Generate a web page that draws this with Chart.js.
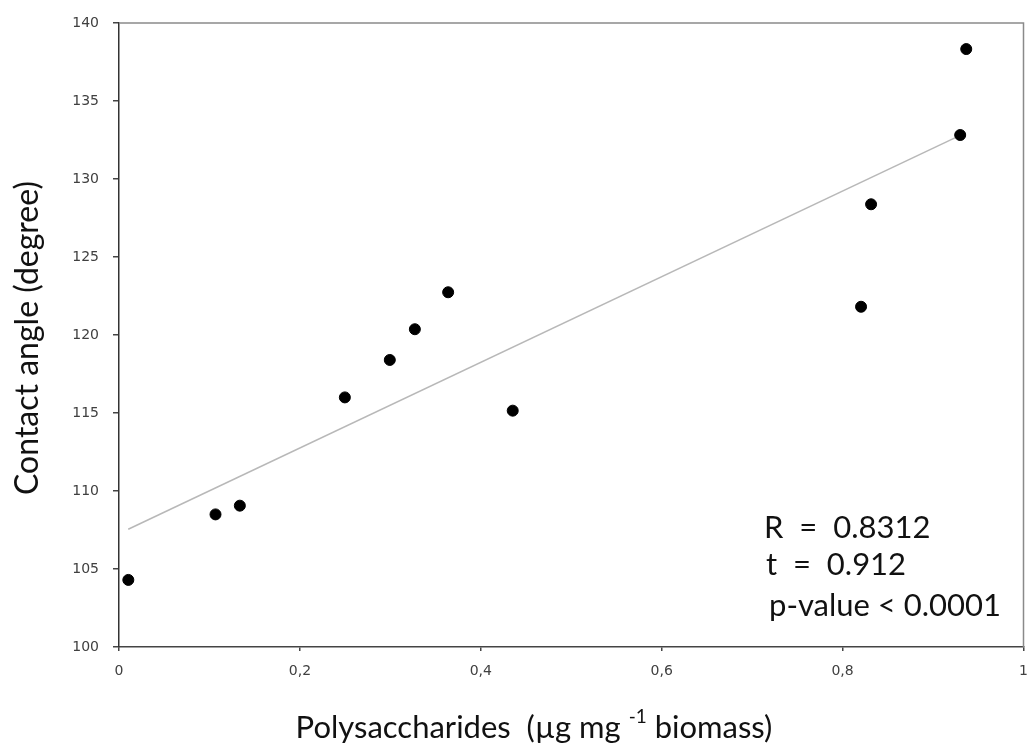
<!DOCTYPE html>
<html>
<head>
<meta charset="utf-8">
<script src="https://cdn.jsdelivr.net/npm/chart.js@4.4.1/dist/chart.umd.min.js"></script>
<style>
  html, body { margin: 0; padding: 0; background: #fff; }
  #wrap { width: 1030px; height: 748px; position: relative; }
</style>
</head>
<body>
<div id="wrap"><canvas id="c" width="1030" height="748"></canvas></div>
<script>
// Data
const polysaccharides = [0.0103, 0.1067, 0.1336, 0.2497, 0.2994, 0.3271, 0.3639, 0.4353, 0.8204, 0.8315, 0.9300, 0.9367];
const contactAngle    = [104.3, 108.5, 109.06, 116.0, 118.4, 120.37, 122.74, 115.15, 121.81, 128.38, 132.82, 138.33];
const trendX = [0.0102, 0.930];
const trendY = [107.55, 132.8];
const xTicks = [0, 0.2, 0.4, 0.6, 0.8, 1];
const yTicks = [100, 105, 110, 115, 120, 125, 130, 135, 140];
const statsLines = ["R  =  0.8312", "t  =  0.912", "p-value < 0.0001"];
const xTitleParts = ["Polysaccharides  (\u00b5g mg ", "-1", " biomass)"];
const yTitle = "Contact angle (degree)";

const points = polysaccharides.map((x, i) => ({ x: x, y: contactAngle[i] }));
const trend = trendX.map((x, i) => ({ x: x, y: trendY[i] }));

const titleFont = "Lato, 'Open Sans', sans-serif";

const decorPlugin = {
  id: 'decor',
  afterDatasetsDraw(chart) {
    const ctx = chart.ctx;
    const a = chart.chartArea;
    ctx.save();
    ctx.strokeStyle = '#8a8a8a';
    ctx.lineWidth = 1.5;
    ctx.beginPath();
    ctx.moveTo(a.left, a.top);
    ctx.lineTo(a.right, a.top);
    ctx.lineTo(a.right, a.bottom);
    ctx.stroke();
    ctx.restore();
  },
  afterDraw(chart) {
    const ctx = chart.ctx;
    ctx.save();
    ctx.fillStyle = '#111';
    // stats annotation
    ctx.font = "31px " + titleFont;
    ctx.textBaseline = 'middle';
    ctx.textAlign = 'left';
    ctx.fillText(statsLines[0], 764, 528);
    ctx.fillText(statsLines[1], 766, 565);
    ctx.fillText(statsLines[2], 769, 606);
    // x title
    const big = "31px " + titleFont, small = "19px " + titleFont;
    ctx.font = big;
    const w0 = ctx.measureText(xTitleParts[0]).width;
    ctx.font = small;
    const w1 = ctx.measureText(xTitleParts[1]).width;
    ctx.font = big;
    const w2 = ctx.measureText(xTitleParts[2]).width;
    const total = w0 + w1 + w2;
    let x = 534 - total / 2;
    const by = 738;
    ctx.textBaseline = 'alphabetic';
    ctx.fillText(xTitleParts[0], x, by);
    x += w0;
    ctx.font = small;
    ctx.fillText(xTitleParts[1], x, by - 15);
    x += w1;
    ctx.font = big;
    ctx.fillText(xTitleParts[2], x, by);
    // y title
    ctx.translate(28, 338);
    ctx.rotate(-Math.PI / 2);
    ctx.textAlign = 'center';
    ctx.textBaseline = 'middle';
    ctx.font = "32px " + titleFont;
    ctx.fillText(yTitle, 0, 0);
    ctx.restore();
  }
};

new Chart(document.getElementById('c'), {
  type: 'scatter',
  data: {
    datasets: [
      {
        label: 'trend',
        data: trend,
        showLine: true,
        borderColor: '#b8b8b8',
        borderWidth: 1.5,
        pointRadius: 0,
        fill: false,
        order: 2
      },
      {
        label: 'Contact angle',
        data: points,
        backgroundColor: '#000',
        borderColor: '#000',
        pointRadius: 5.5,
        pointHoverRadius: 5.5,
        order: 1
      }
    ]
  },
  options: {
    responsive: false,
    animation: false,
    devicePixelRatio: 1,
    layout: { padding: { top: 23, right: 5, left: 0, bottom: 0 } },
    plugins: { legend: { display: false }, tooltip: { enabled: false } },
    scales: {
      x: {
        type: 'linear',
        min: 0, max: 1,
        afterBuildTicks(s) { s.ticks = xTicks.map(v => ({ value: v })); },
        afterFit(s) { s.height = 101; s.paddingRight = 0; s.paddingLeft = 0; },
        ticks: {
          color: '#404040',
          font: { family: "'DejaVu Sans', sans-serif", size: 14 },
          padding: 12,
          maxRotation: 0,
          callback: v => String(v).replace('.', ',')
        },
        grid: { drawOnChartArea: false, drawTicks: true, tickLength: 4, color: '#444', lineWidth: 1.5 },
        border: { display: true, color: '#444', width: 1.5 }
      },
      y: {
        type: 'linear',
        min: 100, max: 140,
        afterBuildTicks(s) { s.ticks = yTicks.map(v => ({ value: v })); },
        afterFit(s) { s.width = 119; s.paddingTop = 0; s.paddingBottom = 0; },
        ticks: {
          color: '#404040',
          font: { family: "'DejaVu Sans', sans-serif", size: 14 },
          padding: 14
        },
        grid: { drawOnChartArea: false, drawTicks: true, tickLength: 6, color: '#444', lineWidth: 1.5 },
        border: { display: true, color: '#333', width: 1.5 }
      }
    }
  },
  plugins: [decorPlugin]
});
</script>
</body>
</html>
